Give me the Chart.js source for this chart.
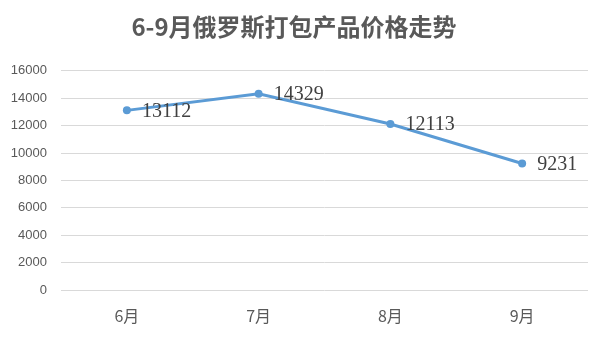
<!DOCTYPE html>
<html>
<head>
<meta charset="utf-8">
<script src="https://cdn.jsdelivr.net/npm/chart.js@4/dist/chart.umd.min.js"></script>
<style>
  html, body { margin: 0; padding: 0; background: #fff; }
  #wrap { width: 600px; height: 354px; }
</style>
</head>
<body>
<div id="wrap"><canvas id="chart" width="600" height="354"></canvas></div>
<script>
// data
const months = ['6月', '7月', '8月', '9月'];
const prices = [13112, 14329, 12113, 9231];
const yTicks = [0, 2000, 4000, 6000, 8000, 10000, 12000, 14000, 16000];

// draw value labels to the right of each point
const valueLabels = {
    id: 'valueLabels',
    afterDatasetsDraw(chart) {
        const ctx = chart.ctx;
        const meta = chart.getDatasetMeta(0);
        ctx.save();
        ctx.font = '20px "Liberation Serif", serif';
        ctx.fillStyle = '#404040';
        ctx.textAlign = 'left';
        ctx.textBaseline = 'middle';
        meta.data.forEach((pt, i) => {
            ctx.fillText(String(prices[i]), pt.x + 15, pt.y + 1);
        });
        ctx.restore();
    }
};

new Chart(document.getElementById('chart').getContext('2d'), {
    type: 'line',
    data: {
        labels: months,
        datasets: [{
            data: prices,
            borderColor: '#5B9BD5',
            backgroundColor: '#5B9BD5',
            borderWidth: 3,
            pointRadius: 4,
            pointBorderWidth: 0,
            tension: 0
        }]
    },
    options: {
        responsive: false,
        animation: false,
        layout: { padding: { left: 0, right: 12, top: 0, bottom: 0 } },
        plugins: {
            legend: { display: false },
            tooltip: { enabled: false },
            title: {
                display: true,
                text: '6-9月俄罗斯打包产品价格走势',
                color: '#595959',
                font: { family: '"Noto Sans CJK SC", sans-serif', size: 24, weight: 'bold' },
                padding: { top: 12, bottom: 30 }
            }
        },
        scales: {
            x: {
                offset: true,
                grid: { display: false, drawTicks: false },
                border: { display: false },
                ticks: {
                    color: '#595959',
                    font: { family: '"Noto Sans CJK SC", sans-serif', size: 16 },
                    padding: 16
                },
                afterFit(scale) { scale.height = 64; }
            },
            y: {
                min: 0,
                max: 16000,
                afterBuildTicks(scale) { scale.ticks = yTicks.map(v => ({ value: v })); },
                grid: { color: '#d9d9d9', lineWidth: 1, drawTicks: false },
                border: { display: false },
                ticks: {
                    color: '#595959',
                    font: { family: '"Liberation Sans", sans-serif', size: 13 },
                    padding: 14,
                    callback: v => String(v)
                },
                afterFit(scale) { scale.width = 61; }
            }
        }
    },
    plugins: [valueLabels]
});
</script>
</body>
</html>
